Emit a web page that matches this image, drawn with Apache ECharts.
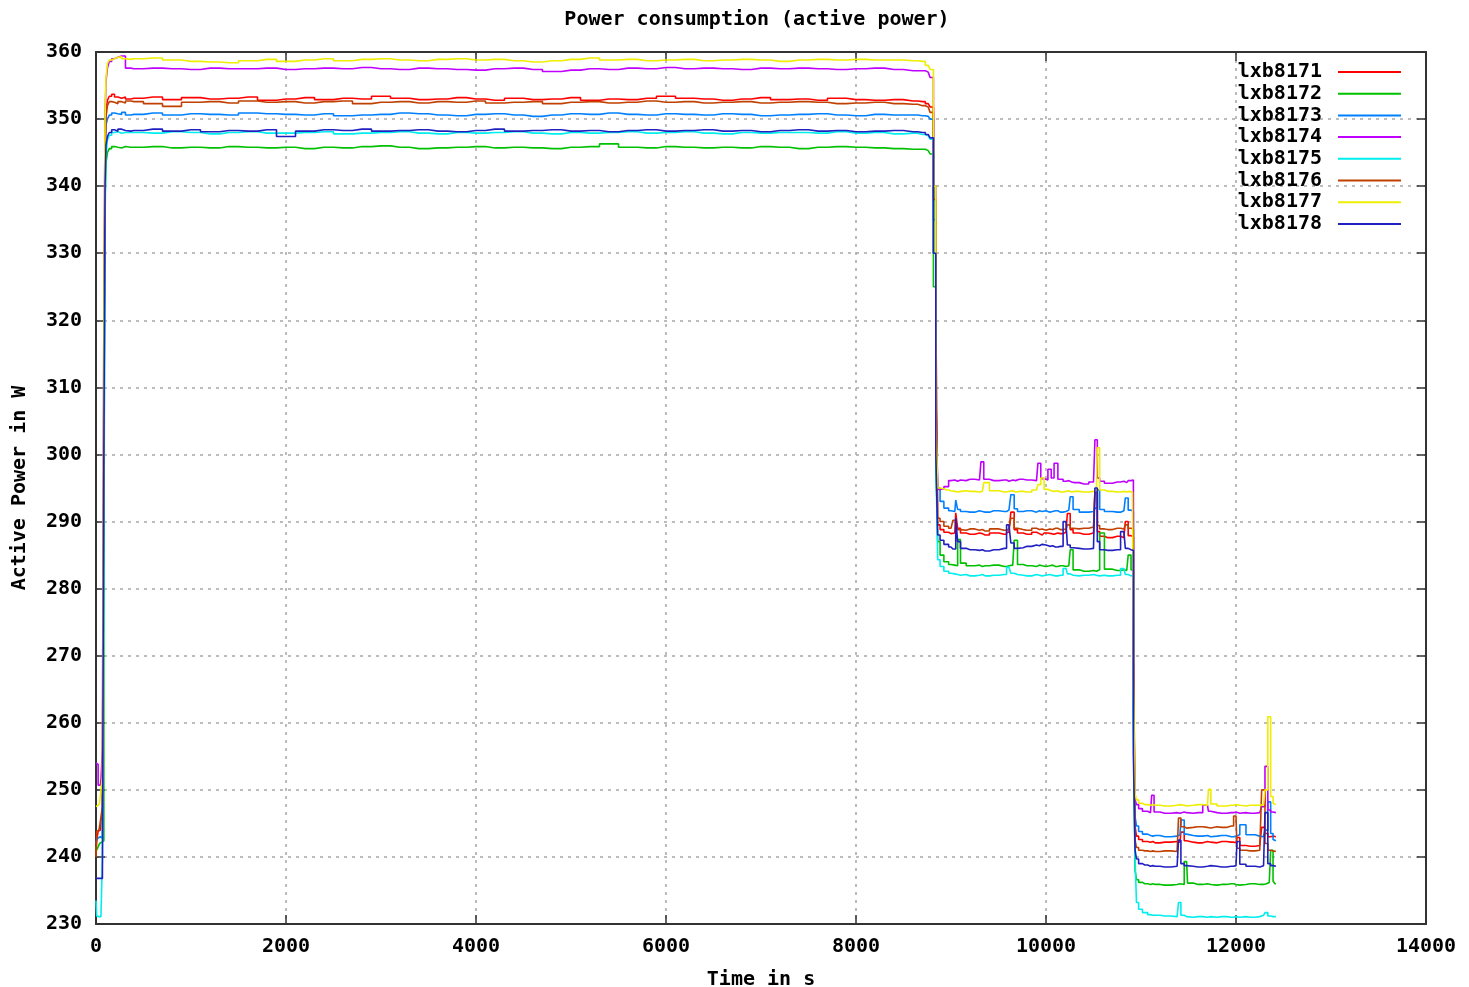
<!DOCTYPE html>
<html>
<head>
<meta charset="utf-8">
<script src="https://cdn.jsdelivr.net/npm/echarts@6/dist/echarts.min.js"></script>
<style>
html,body{margin:0;padding:0;background:#fff;}
#chart{width:1469px;height:987px;}
</style>
</head>
<body>
<div id="chart"></div>
<script>
// ---- data (time in s) ----
const times = [
  0,15,30,45,60,75,90,100,110,130,150,180,210,250,290,330,
  400,600,800,1000,1200,1400,1600,1800,2000,2200,2400,2600,2800,3000,3200,3400,3600,3800,4000,4200,4400,4600,4800,5000,5200,5400,5600,5800,6000,6200,6400,6600,6800,7000,7200,7400,7600,7800,8000,8200,8400,8600,8700,8760,8800,
  8830,8850,
  8870,8900,8950,9000,9040,9060,9080,9120,9200,9300,9330,9360,9450,9560,9610,9650,9680,9720,9800,9900,9930,9960,10000,10040,10070,10100,10150,10210,10240,10270,10300,10400,10500,10530,10550,10580,10650,10750,10820,10850,10880,10910,
  10930,10945,
  10960,10990,11040,11100,11125,11150,11250,11380,11410,11430,11480,11500,11600,11700,11720,11750,11850,11950,12000,12020,12060,12150,12250,12290,12320,12350,12380,12400,12420
];

const lxb8171 = [
  240.5,242.5,243.8,244.0,245.5,246.0,300,345,351.1,352.8,353.4,353.7,353.3,353.1,353.3,353.0,
  353.1,353.3,352.9,353.2,353.0,353.1,353.3,352.8,353.0,353.2,352.9,353.1,353.0,353.4,353.1,352.9,353.0,353.2,353.0,352.8,353.1,352.9,353.0,353.2,352.8,353.0,352.9,353.1,353.4,353.1,353.0,352.8,353.0,353.2,352.9,353.0,352.8,353.1,352.9,352.8,352.9,352.7,352.6,352.3,351.8,
  330,311,
  289.5,288.8,288.4,288.2,288.3,291.3,289.0,288.3,288.1,288.3,288.2,288.0,288.3,288.1,288.4,291.4,288.8,288.3,288.1,288.4,288.2,288.0,288.3,288.2,288.1,288.3,288.2,288.4,291.2,288.8,288.3,288.1,288.3,294.5,288.5,287.8,287.6,287.8,287.6,290.0,287.9,287.7,
  268,244.5,
  243.1,242.6,242.3,242.2,242.3,242.1,242.2,242.3,242.2,243.7,242.4,242.2,242.1,242.3,242.2,242.1,242.3,242.2,242.1,242.9,241.7,241.6,241.7,244.4,243.5,243.0,243.1,243.0,243.0
];
const lxb8172 = [
  241.5,241.0,241.5,242.0,242.2,242.4,290,338,343.4,345.0,345.6,345.9,345.8,345.7,345.9,345.8,
  345.8,345.9,345.7,345.8,345.7,345.9,345.8,345.7,345.8,345.6,345.8,345.7,345.9,346.0,345.8,345.6,345.7,345.8,345.9,345.7,345.8,345.7,345.6,345.8,345.9,346.3,345.8,345.7,345.9,345.8,345.7,345.8,345.7,345.9,345.8,345.6,345.8,345.9,345.8,345.7,345.6,345.5,345.5,345.3,344.8,
  325,300,
  287.0,285.0,284.0,283.6,283.5,283.4,287.3,283.8,283.4,283.5,283.3,283.4,283.5,283.3,283.4,283.5,287.2,283.6,283.4,283.3,283.5,283.4,283.3,283.4,283.5,283.3,283.4,283.3,283.4,285.8,282.8,282.6,282.7,282.6,282.8,288.3,282.9,282.7,282.8,282.7,285.0,282.8,
  260,238,
  236.6,236.2,236.0,235.9,236.0,235.9,235.8,235.9,236.0,235.9,239.3,236.1,235.9,236.0,235.9,235.8,235.9,236.0,235.9,235.8,235.9,236.0,235.9,235.9,236.0,236.2,241.0,236.4,236.0
];
const lxb8173 = [
  242.0,242.5,242.8,243.0,242.8,243.2,300,344,349.1,350.0,350.6,350.9,350.8,350.7,351.0,350.6,
  350.7,350.9,350.6,350.8,350.7,350.6,350.9,350.8,350.7,350.6,350.8,350.5,350.6,350.7,350.9,350.8,350.6,350.5,350.7,350.8,350.6,350.4,350.6,350.8,350.7,350.9,350.7,350.6,350.8,350.7,350.6,350.8,350.7,350.5,350.6,350.7,350.8,350.6,350.5,350.7,350.6,350.6,350.5,350.4,350.0,
  335,305,
  295.0,293.0,292.0,291.6,291.5,293.2,291.8,291.5,291.4,291.6,291.5,291.4,291.6,291.5,291.7,294.0,291.9,291.5,291.6,291.4,291.6,291.5,291.6,291.4,291.5,291.6,291.4,291.5,291.7,293.7,291.8,291.4,291.5,292.0,294.7,291.8,291.5,291.4,291.6,293.5,291.7,291.5,
  262,246,
  244.6,243.8,243.4,243.2,243.1,243.2,243.0,243.1,243.3,245.5,243.4,243.2,243.1,243.2,243.0,243.1,243.2,243.0,243.1,243.3,244.8,243.3,243.1,243.0,244.0,248.2,243.5,242.6,242.4
];
const lxb8174 = [
  254.0,253.8,250.7,250.7,251.5,256.0,320,350,355.6,357.6,358.6,359.0,359.2,359.4,359.4,357.6,
  357.5,357.6,357.5,357.4,357.6,357.5,357.5,357.6,357.4,357.5,357.6,357.5,357.7,357.5,357.4,357.6,357.5,357.4,357.3,357.5,357.6,357.4,357.1,357.3,357.5,357.4,357.6,357.5,357.7,357.5,357.6,357.5,357.4,357.6,357.5,357.6,357.5,357.4,357.5,357.6,357.4,357.2,357.2,357.0,356.2,
  340,310,
  294.8,294.9,295.2,296.1,296.2,296.0,296.2,296.1,296.3,296.2,298.9,296.3,296.1,296.2,296.0,296.2,296.1,296.3,296.2,296.1,298.7,296.4,296.2,297.8,296.5,298.7,296.3,296.0,296.1,295.9,295.8,295.6,295.9,302.2,296.5,296.0,295.7,295.9,296.0,295.8,296.1,296.2,
  270,248.5,
  247.8,247.2,246.8,246.6,249.2,246.7,246.5,246.6,246.5,246.7,246.6,246.5,246.6,247.7,246.8,246.6,246.5,246.6,246.7,246.5,246.6,246.5,246.6,247.5,253.5,247.0,246.7,246.6,246.6
];
const lxb8175 = [
  233.5,231.2,231.1,231.1,231.5,239.7,280,335,344.4,346.9,347.6,348.0,348.1,347.9,348.0,348.0,
  348.0,347.9,348.1,348.0,347.8,348.0,348.1,347.9,347.9,348.0,348.1,347.8,347.9,348.0,348.1,347.9,347.8,348.0,347.9,348.0,348.1,347.9,347.8,348.0,347.9,348.0,348.1,347.9,348.0,348.1,347.9,347.8,348.0,347.9,348.0,348.0,347.9,348.1,347.9,348.0,347.8,347.9,347.7,347.5,347.0,
  330,300,
  284.3,283.3,282.6,282.3,282.2,282.1,282.0,282.1,281.9,282.0,282.1,281.9,282.0,282.1,283.2,282.3,282.1,282.0,281.9,282.1,282.0,281.9,282.0,282.1,282.0,281.9,282.0,283.0,282.2,282.0,281.9,282.0,282.1,282.0,281.9,282.0,281.9,282.0,283.0,282.1,281.9,282.0,
  258,239.8,
  233.2,232.2,231.7,231.4,231.3,231.3,231.2,231.1,233.2,231.3,231.1,231.0,231.1,231.0,231.1,231.0,231.1,231.0,231.1,231.0,231.1,231.0,231.1,231.3,231.7,231.2,231.1,231.1,231.1
];
const lxb8176 = [
  240.0,243.8,244.0,244.5,246.0,247.5,310,345,350.2,352.0,352.6,352.5,352.3,352.6,352.4,352.7,
  352.6,352.3,351.9,352.5,352.6,352.4,352.7,352.5,352.6,352.4,352.6,352.7,352.3,352.5,352.6,352.4,352.6,352.5,352.7,352.4,352.5,352.6,352.3,352.5,352.6,352.4,352.5,352.7,352.5,352.6,352.4,352.5,352.6,352.4,352.5,352.6,352.5,352.3,352.4,352.5,352.3,352.2,352.0,351.8,351.0,
  338,322,
  290.5,290.0,289.3,289.0,290.2,289.2,288.8,288.7,288.9,288.7,288.8,288.6,288.9,288.7,288.9,290.5,289.0,288.8,288.7,289.0,288.8,288.9,288.7,288.9,288.8,289.0,288.8,288.9,289.5,289.0,288.9,289.0,289.2,294.3,289.4,288.9,288.8,289.0,288.9,289.5,289.0,288.9,
  272,242.5,
  241.4,241.0,240.9,240.8,240.9,240.8,240.9,240.8,245.8,244.5,244.3,244.4,244.5,244.4,244.3,244.5,244.4,244.6,246.1,241.3,241.0,240.9,241.0,250.0,242.0,241.0,240.9,240.8,240.8
];
const lxb8177 = [
  247.5,247.7,247.7,248.0,250.0,252.0,320,350,356.0,358.3,358.8,359.0,359.2,359.3,359.0,358.9,
  359.0,359.1,358.8,358.6,358.5,358.4,358.7,358.9,358.6,358.8,359.0,358.7,358.9,359.0,358.8,358.7,358.9,359.0,358.8,358.9,358.7,358.5,358.7,358.9,359.1,358.8,358.9,358.7,358.8,358.9,358.7,358.8,358.9,358.8,358.6,358.8,358.9,358.8,358.9,358.8,358.8,358.7,358.6,358.0,357.4,
  340,305,
  295.0,294.9,294.7,294.6,294.5,294.4,294.5,294.6,294.5,294.4,294.5,295.8,294.6,294.4,294.5,294.6,294.4,294.5,294.4,294.7,295.5,296.5,294.8,294.6,294.5,294.6,294.4,294.5,294.6,294.4,294.5,294.4,294.5,294.6,301.0,294.7,294.5,294.4,294.5,294.4,294.5,294.4,
  266,249.5,
  248.5,248.0,247.8,247.7,247.8,247.7,247.6,247.7,247.8,247.7,247.6,247.7,247.8,247.7,250.1,247.9,247.6,247.7,247.8,247.7,247.6,247.7,247.7,247.8,250.0,260.9,249.0,248.0,247.8
];
const lxb8178 = [
  236.8,236.8,236.8,236.8,236.8,237.0,300,340,346.1,347.4,348.0,348.4,348.2,348.5,348.3,348.2,
  348.3,348.5,348.2,348.4,348.1,348.3,348.2,348.4,347.4,348.2,348.4,348.3,348.5,348.2,348.3,348.4,348.2,348.1,348.3,348.5,348.2,348.3,348.4,348.2,348.3,348.1,348.3,348.4,348.2,348.3,348.4,348.2,348.3,348.1,348.3,348.4,348.2,348.3,348.1,348.2,348.3,348.1,348.0,347.7,347.2,
  330,300,
  288.0,287.2,286.6,286.2,285.9,290.5,287.0,286.0,285.8,285.7,285.8,285.6,285.8,286.0,289.5,286.8,286.0,286.1,286.3,286.5,286.4,286.6,286.5,286.3,286.4,286.2,286.3,290.0,286.5,286.1,286.0,285.9,286.0,295.0,287.0,285.8,285.7,285.8,288.5,286.0,285.8,285.7,
  255,241.0,
  239.7,239.0,238.8,238.6,238.7,238.6,238.5,238.6,242.5,239.0,238.7,238.6,238.5,238.6,238.7,238.6,238.5,238.6,238.7,242.3,238.9,238.6,238.5,238.7,246.6,239.0,238.7,238.6,238.6
];

const seriesNames = ['lxb8171','lxb8172','lxb8173','lxb8174','lxb8175','lxb8176','lxb8177','lxb8178'];
const seriesValues = [lxb8171,lxb8172,lxb8173,lxb8174,lxb8175,lxb8176,lxb8177,lxb8178];
const seriesColors = ['#ff0000','#00c000','#0080ff','#c000ff','#00eeee','#c04000','#eeee00','#2020c0'];

const xTicks = {min: 0, max: 14000, interval: 2000};
const yTicks = {min: 230, max: 360, interval: 10};

// ---- chart ----
const FONT = 'DejaVu Sans Mono';
const txt = {fontFamily: FONT, fontWeight: 'bold', fontSize: 20, color: '#000'};
const axisLineStyle = {show: true, onZero: false, lineStyle: {color: '#333', width: 2}};
const tickStyle = {show: true, inside: true, length: 9, lineStyle: {color: '#333', width: 1.5}};
const gridLine = {show: true, lineStyle: {type: [3, 5], color: '#a8a8a8', width: 1.5}};
const plain = v => String(v);

const chart = echarts.init(document.getElementById('chart'), null, {renderer: 'canvas'});
chart.setOption({
  animation: false,
  backgroundColor: '#fff',
  title: {
    text: 'Power consumption (active power)',
    left: 752, top: 5, textAlign: 'center',
    textStyle: Object.assign({}, txt)
  },
  grid: {left: 96, right: 43, top: 52, bottom: 63, show: false, containLabel: false, outerBoundsMode: 'none'},
  legend: {
    orient: 'vertical', right: 63, top: 57, align: 'right',
    icon: 'rect', itemWidth: 63, itemHeight: 2, itemGap: 1.7,
    textStyle: Object.assign({}, txt, {lineHeight: 20, padding: [0, 11, 0, 0]}),
    data: seriesNames
  },
  xAxis: [
    Object.assign({type: 'value', position: 'bottom',
      axisLine: axisLineStyle, axisTick: tickStyle,
      axisLabel: Object.assign({margin: 13, formatter: plain}, txt),
      splitLine: gridLine,
      name: 'Time in s', nameLocation: 'middle', nameGap: 46,
      nameTextStyle: Object.assign({}, txt)}, xTicks),
    Object.assign({type: 'value', position: 'top',
      axisLine: axisLineStyle, axisTick: tickStyle,
      axisLabel: {show: false}, splitLine: {show: false}}, xTicks)
  ],
  yAxis: [
    Object.assign({type: 'value', position: 'left',
      axisLine: axisLineStyle, axisTick: tickStyle,
      axisLabel: Object.assign({margin: 14, formatter: plain}, txt),
      splitLine: gridLine,
      name: 'Active Power in W', nameLocation: 'middle', nameGap: 66, nameRotate: 90,
      nameTextStyle: Object.assign({}, txt)}, yTicks),
    Object.assign({type: 'value', position: 'right',
      axisLine: axisLineStyle, axisTick: tickStyle,
      axisLabel: {show: false}, splitLine: {show: false}}, yTicks)
  ],
  series: seriesNames.map((name, k) => ({
    name: name,
    type: 'line',
    xAxisIndex: 0, yAxisIndex: 0,
    step: 'middle',
    symbol: 'none', showSymbol: false,
    color: seriesColors[k],
    itemStyle: {color: seriesColors[k]},
    lineStyle: {width: 1.6, color: seriesColors[k]},
    data: times.map((t, i) => [t, seriesValues[k][i]])
  }))
});
</script>
</body>
</html>
